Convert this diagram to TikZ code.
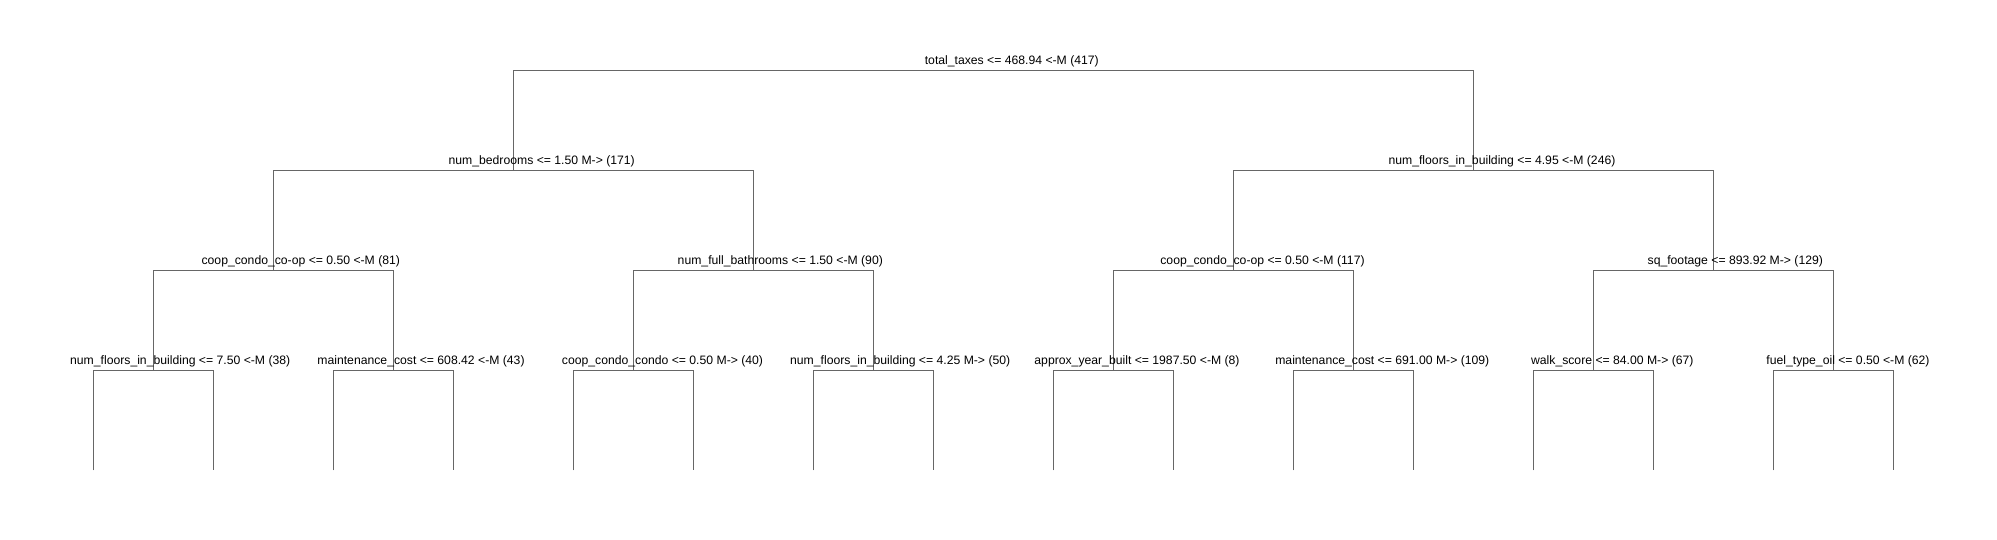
\documentclass[tikz,border=0pt]{standalone}
\usepackage{fontspec}
\setmainfont{Liberation Sans}
\definecolor{linegray}{RGB}{102,102,102}
\begin{document}
\begin{tikzpicture}[x=1pt,y=-1pt,
  edge/.style={draw=linegray,line width=1pt},
  lab/.style={anchor=base,inner sep=0pt,text=black,font=\fontsize{12.2}{14}\selectfont,yshift=6pt}]
\useasboundingbox (0,0) rectangle (1997,540);
% split points
\coordinate (r) at (993.3,70.3);
\coordinate (a) at (513.3,170.3);
\coordinate (b) at (1473.3,170.3);
\coordinate (a1) at (273.3,270.3);
\coordinate (a2) at (753.3,270.3);
\coordinate (b1) at (1233.3,270.3);
\coordinate (b2) at (1713.3,270.3);
\foreach \i in {1,...,8}{\coordinate (c\i) at ({153.3+240*(\i-1)},370.3);}
\foreach \i in {1,...,16}{\coordinate (f\i) at ({93.3+120*(\i-1)},470.3);}
% branches
\draw[edge] (a) |- (r) -| (b);
\draw[edge] (a1) |- (a) -| (a2);
\draw[edge] (b1) |- (b) -| (b2);
\draw[edge] (c1) |- (a1) -| (c2);
\draw[edge] (c3) |- (a2) -| (c4);
\draw[edge] (c5) |- (b1) -| (c6);
\draw[edge] (c7) |- (b2) -| (c8);
\draw[edge] (f1) |- (c1) -| (f2);
\draw[edge] (f3) |- (c2) -| (f4);
\draw[edge] (f5) |- (c3) -| (f6);
\draw[edge] (f7) |- (c4) -| (f8);
\draw[edge] (f9) |- (c5) -| (f10);
\draw[edge] (f11) |- (c6) -| (f12);
\draw[edge] (f13) |- (c7) -| (f14);
\draw[edge] (f15) |- (c8) -| (f16);
% labels
\node[lab,xshift=18.5pt] (lr) at (r) {total\_taxes <= 468.94 <-M (417)};
\node[lab,xshift=28.4pt] (la) at (a) {num\_bedrooms <= 1.50 M-> (171)};
\node[lab,xshift=28.7pt] (lb) at (b) {num\_floors\_in\_building <= 4.95 <-M (246)};
\node[lab,xshift=27.5pt] (la1) at (a1) {coop\_condo\_co-op <= 0.50 <-M (81)};
\node[lab,xshift=27pt] (la2) at (a2) {num\_full\_bathrooms <= 1.50 <-M (90)};
\node[lab,xshift=29.2pt] (lb1) at (b1) {coop\_condo\_co-op <= 0.50 <-M (117)};
\node[lab,xshift=22pt] (lb2) at (b2) {sq\_footage <= 893.92 M-> (129)};
\node[lab,xshift=26.9pt] (lc1) at (c1) {num\_floors\_in\_building <= 7.50 <-M (38)};
\node[lab,xshift=27.7pt] (lc2) at (c2) {maintenance\_cost <= 608.42 <-M (43)};
\node[lab,xshift=29.2pt] (lc3) at (c3) {coop\_condo\_condo <= 0.50 M-> (40)};
\node[lab,xshift=26.9pt] (lc4) at (c4) {num\_floors\_in\_building <= 4.25 M-> (50)};
\node[lab,xshift=23.7pt] (lc5) at (c5) {approx\_year\_built <= 1987.50 <-M (8)};
\node[lab,xshift=29pt] (lc6) at (c6) {maintenance\_cost <= 691.00 M-> (109)};
\node[lab,xshift=19pt] (lc7) at (c7) {walk\_score <= 84.00 M-> (67)};
\node[lab,xshift=14.7pt] (lc8) at (c8) {fuel\_type\_oil <= 0.50 <-M (62)};
\end{tikzpicture}
\end{document}
